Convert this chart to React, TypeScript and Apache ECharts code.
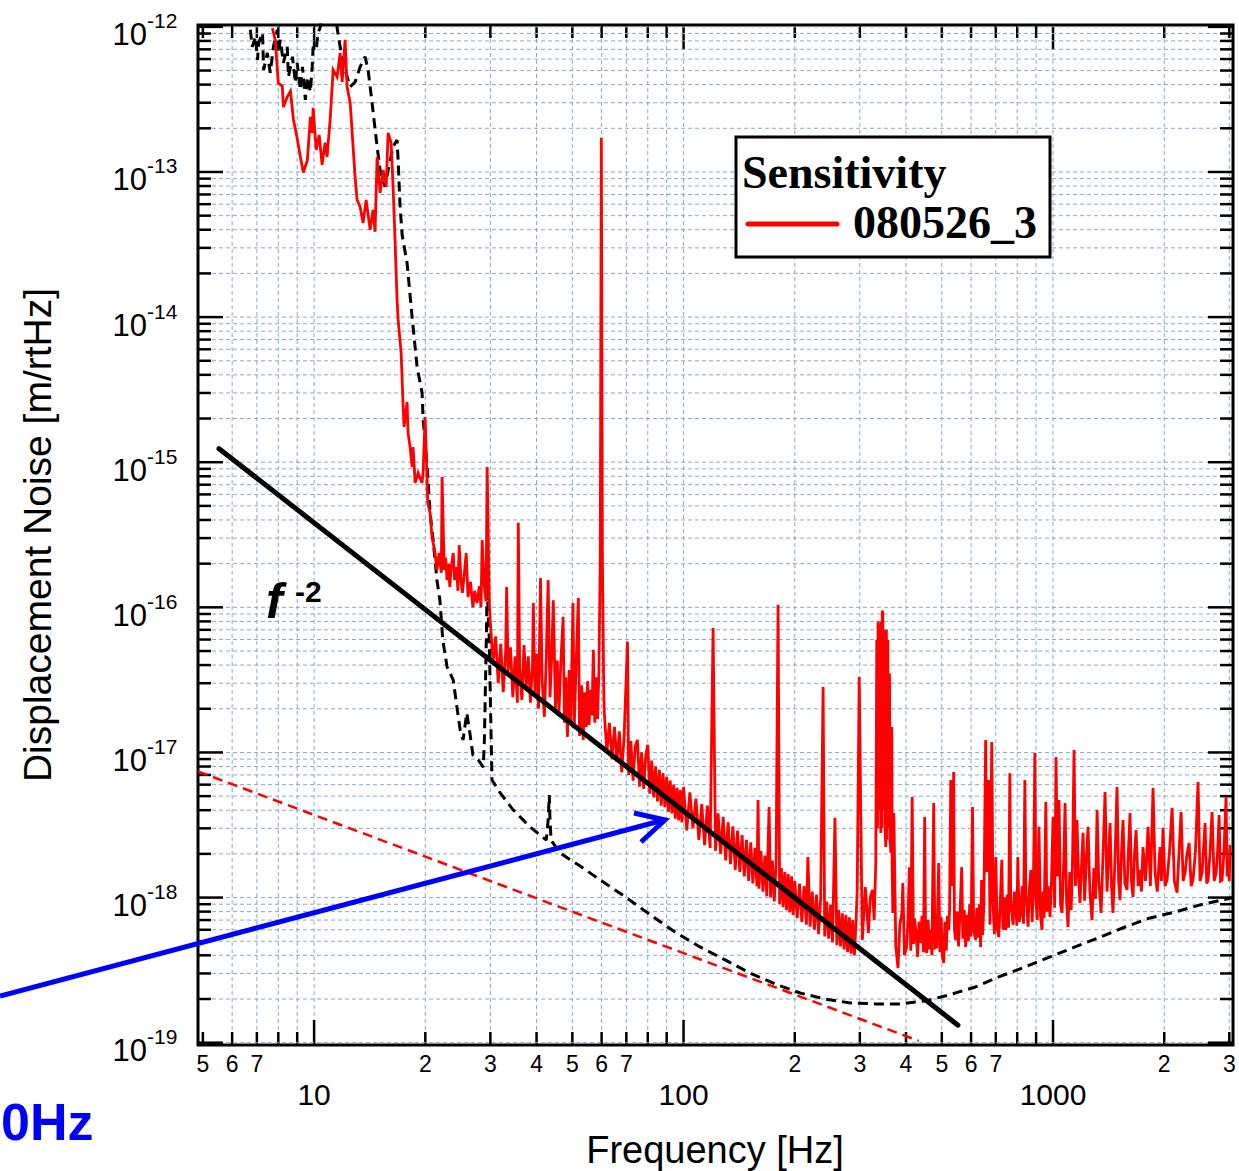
import React, { useEffect, useRef } from "react";
import * as echarts from "echarts";

const X_MIN = 4.85;
const X_MAX = 3070;
const Y_MIN = 9.64e-20;
const Y_MAX = 1.03e-12;

const xMajorTicks = [10, 100, 1000];
const xMajorLabels = ["10", "100", "1000"];
const xMinorTicks = [5, 6, 7, 8, 9, 20, 30, 40, 50, 60, 70, 80, 90, 200, 300, 400, 500, 600, 700, 800, 900, 2000, 3000];
const xMinorLabels = ["5", "6", "7", "", "", "2", "3", "4", "5", "6", "7", "", "", "2", "3", "4", "5", "6", "7", "", "", "2", "3"];
const yMajorTicks = [1e-19, 1e-18, 1e-17, 1e-16, 1e-15, 1e-14, 1e-13, 1e-12];
const yMajorExponents = ["-19", "-18", "-17", "-16", "-15", "-14", "-13", "-12"];
const yMinorMantissas = [2, 3, 4, 5, 6, 7, 8, 9];

// Measured sensitivity 080526_3 [Hz, m/rtHz]
const sensitivityLow = [
  [7.71, 9.8e-13], [7.85, 8.1e-13], [8.0, 4.1e-13], [8.2, 3.9e-13], [8.26, 2.8e-13], [8.46, 3.3e-13], [8.63, 3.6e-13],
  [8.79, 2.3e-13], [9.0, 1.7e-13], [9.18, 1.27e-13], [9.35, 9.9e-14], [9.59, 1.21e-13], [9.77, 2.4e-13], [9.88, 1.86e-13],
  [9.94, 2.77e-13], [10.13, 1.42e-13], [10.32, 1.8e-13], [10.51, 1.12e-13], [10.71, 1.59e-13], [10.84, 1.27e-13],
  [11.05, 2.29e-13], [11.26, 5.05e-13], [11.54, 4.52e-13], [11.76, 6.62e-13], [11.91, 4.17e-13], [12.13, 8.14e-13],
  [12.28, 3.86e-13], [12.52, 3.0e-13], [12.75, 1.49e-13], [12.91, 9.25e-14], [13.07, 6.43e-14], [13.32, 5.75e-14],
  [13.57, 4.46e-14], [13.83, 6.43e-14], [14.18, 4.0e-14], [14.44, 5.49e-14], [14.62, 3.87e-14], [14.81, 1.27e-13],
  [15.09, 7.18e-14], [15.38, 1.03e-13], [15.67, 7.9e-14], [15.86, 1.86e-13], [16.16, 1.59e-13], [16.36, 7.9e-14],
  [16.56, 3.4e-14], [16.77, 1.31e-14], [16.88, 9.6e-15], [17.2, 5.67e-15], [17.42, 2.4e-15], [17.52, 1.75e-15],
  [17.85, 2.6e-15], [17.96, 1.59e-15], [18.19, 1.27e-15], [18.42, 9.28e-16], [18.53, 1.27e-15], [18.77, 7.2e-16],
  [19.12, 8.43e-16], [19.6, 7.2e-16], [19.73, 8.6e-16], [19.97, 2.05e-15], [20.2, 8.43e-16], [20.3, 5.25e-16],
  [20.6, 4.47e-16], [20.85, 3.06e-16], [21.25, 2.37e-16], [21.5, 1.81e-16], [21.8, 2.37e-16], [22.1, 1.73e-16],
  [22.2, 7.9e-16], [22.5, 1.81e-16], [22.7, 2.2e-16], [22.9, 1.54e-16], [23.1, 2.0e-16], [23.3, 1.38e-16],
  [23.5, 1.9e-16], [23.8, 2.37e-16], [24.0, 1.54e-16], [24.3, 1.9e-16], [24.5, 1.3e-16], [24.7, 2.69e-16],
  [25.0, 1.5e-16], [25.2, 1.26e-16], [25.5, 1.7e-16], [25.8, 2.37e-16], [26.1, 1.18e-16], [26.5, 1.5e-16],
  [26.9, 1.0e-16], [27.2, 1.3e-16], [27.6, 1.07e-16], [28.0, 1.4e-16], [28.3, 1.0e-16], [28.5, 2.91e-16],
  [28.9, 1.38e-16], [29.2, 1.1e-16], [29.4, 9.28e-16], [29.8, 1.07e-16],
];
const sensitivity30to60 = [
  [30.0, 7.8e-17], [30.5, 4.2e-17], [31.0, 6.3e-17], [31.5, 3.0e-17], [32.0, 5.6e-17], [32.5, 2.6e-17], [33.0, 5.0e-17],
  [33.2, 1.38e-16], [33.5, 3.6e-17], [34.0, 5.3e-17], [34.5, 2.4e-17], [35.0, 4.6e-17], [35.5, 2.2e-17], [35.7, 3.82e-16],
  [36.0, 3.9e-17], [36.5, 2.3e-17], [37.0, 5.5e-17], [37.5, 2.8e-17], [38.0, 4.6e-17], [38.5, 2.2e-17], [39.0, 4.0e-17],
  [39.2, 1.07e-16], [39.6, 2.6e-17], [40.0, 4.8e-17], [40.5, 2.0e-17], [41.0, 1.59e-16], [41.4, 3.2e-17], [42.0, 1.76e-17],
  [42.5, 4.5e-17], [43.0, 1.54e-16], [43.5, 2.4e-17], [44.0, 4.85e-17], [44.4, 1.12e-16], [45.0, 2.0e-17], [45.5, 4.3e-17],
  [46.0, 1.9e-17], [46.5, 4.0e-17], [47.2, 8.6e-17], [47.6, 1.6e-17], [48.0, 3.3e-17], [48.5, 1.28e-17], [49.0, 3.7e-17],
  [49.5, 1.6e-17], [50.2, 1.07e-16], [50.6, 1.5e-17], [51.0, 3.0e-17], [51.9, 1.16e-16], [52.3, 1.3e-17], [53.0, 2.9e-17],
  [53.5, 1.22e-17], [54.0, 2.6e-17], [54.5, 1.5e-17], [55.0, 3.1e-17], [55.5, 1.55e-17], [56.0, 2.7e-17], [56.5, 1.8e-17],
  [57.0, 5.1e-17], [57.5, 1.6e-17], [58.0, 3.3e-17], [58.5, 1.7e-17], [59.0, 3.6e-17], [59.5, 2.12e-16], [59.9, 1.72e-13],
  [60.3, 2.12e-16], [60.8, 2.7e-17],
];
const sensitivity60to100 = [
  [61, 1.9e-17], [62, 1.0e-17], [63, 1.6e-17], [64, 9.0e-18], [65, 1.5e-17], [66, 8.6e-18], [67, 1.4e-17], [68, 7.3e-18],
  [69, 1.25e-17], [70.5, 5.8e-17], [71, 7.0e-18], [72, 1.2e-17], [73, 6.4e-18], [74, 1.1e-17], [75, 1.22e-17], [76, 5.8e-18],
  [77, 1.0e-17], [78, 5.6e-18], [79, 9.5e-18], [80, 1.13e-17], [81, 5.2e-18], [82, 8.8e-18], [83, 4.9e-18], [84, 8.0e-18],
  [85, 4.6e-18], [86, 7.6e-18], [87, 4.3e-18], [88, 7.2e-18], [89, 4.2e-18], [90, 6.8e-18], [91, 3.9e-18], [92, 6.4e-18],
  [93, 3.8e-18], [94, 6.0e-18], [95, 3.5e-18], [96, 5.7e-18], [97, 3.4e-18], [98, 5.5e-18], [99, 3.3e-18], [100, 5.8e-18],
];
const sensitivity100to300 = [
  [102, 2.9e-18], [104, 5.3e-18], [106, 3.0e-18], [108, 4.8e-18], [110, 2.5e-18], [112, 4.4e-18], [114, 2.3e-18],
  [116, 4.3e-18], [118, 2.2e-18], [120.2, 7.2e-17], [122, 2.1e-18], [124, 3.8e-18], [126, 2.0e-18], [128, 3.6e-18],
  [130, 1.8e-18], [132, 3.3e-18], [134, 1.7e-18], [136, 3.1e-18], [138, 1.55e-18], [140, 2.9e-18], [142, 1.5e-18],
  [144, 2.7e-18], [146, 1.4e-18], [148, 2.5e-18], [150, 1.3e-18], [152, 2.4e-18], [154, 1.25e-18], [156, 2.2e-18],
  [158, 1.2e-18], [159.1, 4.7e-18], [160, 1.15e-18], [162, 2.1e-18], [164, 1.1e-18], [166, 1.95e-18], [168, 1.02e-18],
  [170.4, 4.2e-18], [172, 1.0e-18], [174, 1.8e-18], [176, 9.4e-19], [178, 1.7e-18], [180.2, 1.04e-16], [182, 9.0e-19],
  [184, 1.6e-18], [186, 8.6e-19], [188, 1.5e-18], [190, 8.2e-19], [192, 1.45e-18], [194, 7.9e-19], [196, 1.4e-18],
  [198, 7.6e-19], [200, 1.3e-18], [203, 7.2e-19], [206, 1.25e-18], [209, 6.8e-19], [212, 1.2e-18], [215, 6.5e-19],
  [217, 1.9e-18], [220, 6.3e-19], [223, 1.1e-18], [226, 6.0e-19], [229, 1.05e-18], [232, 5.6e-19], [235, 9.8e-19],
  [238.6, 2.83e-17], [241, 5.4e-19], [244, 9.4e-19], [247, 5.2e-19], [250, 8.9e-19], [253, 4.9e-19], [256.9, 3.54e-18],
  [260, 4.7e-19], [263, 8.2e-19], [266, 4.6e-19], [269, 7.8e-19], [272, 4.4e-19], [275, 7.6e-19], [278, 4.2e-19],
  [281, 7.3e-19], [284, 4.1e-19], [287, 7.0e-19], [290, 4.0e-19], [293, 6.8e-19], [295.1, 1.13e-18],
];
const sensitivity300to375 = [
  [298.8, 3.31e-17], [304.6, 5.1e-19], [310.5, 1.18e-18], [316.4, 5.7e-19], [320, 1.0e-18], [324.8, 1.13e-18],
  [328, 7.0e-19], [331.3, 1.73e-18], [333.4, 5.97e-17], [335, 3.0e-18], [336, 8.0e-17], [337.6, 7.33e-17], [339, 4.0e-18],
  [340, 6.5e-17], [341.9, 2.79e-18], [343, 8.0e-17], [344, 3.0e-18], [345, 9.5e-17], [346.2, 9.15e-17], [347, 4.0e-18],
  [348.4, 6.98e-17], [350, 5.0e-17], [351, 3.0e-18], [352.7, 2.23e-18], [354, 7.0e-17], [355, 2.5e-18], [356, 4.0e-17],
  [357.2, 5.97e-17], [358, 3.0e-18], [359.4, 2.19e-17], [361, 3.5e-17], [362, 2.5e-18], [364, 2.03e-18], [366, 1.5e-17],
  [367, 1.5e-18], [368.5, 7.83e-19], [370.8, 3.83e-18],
];
const sensitivity375to1000 = [
  [375.4, 4.57e-19], [380.5, 3.27e-19], [385, 6.5e-19], [389.9, 7.83e-19], [392.2, 1.26e-18], [396, 4.0e-19],
  [401.5, 4.57e-19], [405, 7.0e-19], [408.5, 1.62e-18], [412, 4.3e-19], [415.7, 4.94e-18], [419, 4.8e-19], [422, 7.2e-19],
  [425.8, 5.7e-19], [430, 3.9e-19], [434, 6.8e-19], [438.4, 4.87e-19], [442, 7.5e-19], [446, 4.2e-19], [449.4, 3.59e-18],
  [452, 4.6e-19], [455, 4.15e-19], [459, 7.0e-19], [463, 4.4e-19], [466.6, 5.98e-19], [470, 4.0e-19], [475.3, 4.49e-18],
  [479, 4.5e-19], [484.4, 4.57e-19], [487, 8.0e-19], [490.4, 1.73e-18], [494, 4.2e-19], [498, 7.3e-19], [502, 3.9e-19],
  [506, 3.54e-19], [510, 6.8e-19], [514, 4.3e-19], [518, 7.5e-19], [522, 5.98e-19], [525, 8.5e-19], [528.6, 6.46e-18],
  [533, 1.2e-18], [538.4, 7.34e-18], [541, 6.0e-19], [545.2, 5.1e-19], [550, 8.0e-19], [555, 4.6e-19], [560, 7.8e-19],
  [566, 1.62e-18], [570, 5.2e-19], [575, 8.2e-19], [580, 4.57e-19], [585, 7.6e-19], [590, 5.0e-19], [595, 9.0e-19],
  [600, 5.4e-19], [605.4, 4.21e-18], [610, 6.0e-19], [617, 5.1e-19], [622, 8.5e-19], [628, 5.3e-19], [632, 9.0e-19],
  [636.7, 4.57e-19], [640.7, 1.32e-18], [645, 5.5e-19], [650, 9.2e-19], [657.1, 1.22e-17], [662, 1.5e-18],
  [669.8, 6.46e-18], [675, 6.5e-19], [682.7, 1.18e-17], [688, 9.0e-19], [694, 5.6e-19], [700, 1.9e-18], [706, 6.2e-19],
  [713, 5.34e-19], [720, 9.5e-19], [726.8, 1.82e-18], [732, 6.0e-19], [738, 1.0e-18], [745.3, 5.98e-19], [752, 1.05e-18],
  [758, 6.2e-19], [764.1, 7.2e-18], [768, 1.0e-18], [773.6, 7.83e-19], [780, 6.5e-19], [786, 1.1e-18], [793, 8.9e-19],
  [798, 6.4e-19], [803, 1.9e-18], [810, 6.8e-19], [818, 7.83e-19], [825, 1.2e-18], [832, 6.6e-19], [839, 6.46e-18],
  [844, 1.1e-18], [849.6, 8.6e-19], [856, 6.3e-19], [863, 1.15e-18], [871, 1.55e-18], [878, 6.8e-19], [885, 1.2e-18],
  [893.1, 9.9e-18], [899, 9.5e-19], [906, 7.0e-19], [915.9, 3.07e-18], [925, 7.5e-19], [933.4, 5.98e-19], [940, 1.1e-18],
  [946, 7.2e-19], [956.2, 4.55e-18], [962, 8.0e-19], [970, 1.2e-18], [981.5, 7.35e-19], [990, 1.25e-18], [1000, 3.59e-18],
];
const sensitivity1000to3000 = [
  [1010, 8.5e-19], [1019, 9.3e-18], [1028, 1.4e-18], [1038, 4.71e-18], [1048, 9.0e-19], [1058, 7.83e-19], [1068, 1.6e-18],
  [1078, 4.49e-18], [1088, 9.5e-19], [1098, 6.27e-19], [1110, 1.5e-18], [1120, 8.2e-19], [1130, 2.0e-18], [1140, 1.04e-17],
  [1150, 1.2e-18], [1161, 3.42e-18], [1172, 1.4e-18], [1183, 9.2e-19], [1195, 1.7e-18], [1206, 2.79e-18], [1218, 9.5e-19],
  [1230, 1.8e-18], [1244, 3.07e-18], [1258, 1.1e-18], [1275, 7.0e-19], [1290, 1.6e-18], [1303, 9.8e-19], [1316, 4.01e-18],
  [1330, 1.3e-18], [1349, 7.83e-19], [1365, 1.9e-18], [1383, 5.34e-18], [1400, 1.1e-18], [1413, 1.8e-18], [1427, 3.26e-18],
  [1440, 1.2e-18], [1453, 7.83e-19], [1470, 1.7e-18], [1490, 5.78e-18], [1505, 1.3e-18], [1518, 9.6e-19], [1532, 2.0e-18],
  [1547, 3.42e-18], [1565, 1.25e-18], [1586, 1.13e-18], [1600, 2.1e-18], [1616, 3.83e-18], [1630, 1.3e-18], [1646, 1.01e-18],
  [1660, 1.9e-18], [1678, 2.92e-18], [1700, 1.2e-18], [1720, 1.55e-18], [1735, 1.1e-18], [1752, 2.23e-18], [1780, 1.3e-18],
  [1808, 3.07e-18], [1835, 1.2e-18], [1865, 5.69e-18], [1889, 1.48e-18], [1915, 1.1e-18], [1948, 2.23e-18], [1965, 1.3e-18],
  [1985, 3.02e-18], [2010, 1.2e-18], [2035, 1.32e-18], [2065, 2.0e-18], [2100, 4.15e-18], [2130, 1.3e-18], [2166, 1.08e-18],
  [2190, 1.9e-18], [2221, 3.89e-18], [2250, 1.3e-18], [2277, 1.48e-18], [2305, 2.0e-18], [2335, 2.38e-18], [2365, 1.2e-18],
  [2393, 1.32e-18], [2430, 2.1e-18], [2469, 6.26e-18], [2500, 1.3e-18], [2532, 1.48e-18], [2555, 2.2e-18], [2580, 3.26e-18],
  [2605, 1.25e-18], [2628, 1.32e-18], [2660, 2.0e-18], [2694, 3.89e-18], [2730, 1.3e-18], [2763, 1.48e-18], [2790, 2.1e-18],
  [2815, 3.71e-18], [2840, 1.3e-18], [2868, 1.32e-18], [2900, 2.0e-18], [2940, 4.94e-18], [2960, 1.4e-18], [2977, 1.73e-18],
  [3000, 1.3e-18], [3014, 2.3e-18],
];

// Design / expected noise (black dashed)
const designNoise = [
  [6.72, 9.55e-13], [6.8, 7.28e-13], [6.94, 8.53e-13], [7.03, 5.93e-13], [7.08, 7.76e-13], [7.25, 9.1e-13],
  [7.3, 5.05e-13], [7.47, 6.62e-13], [7.61, 4.82e-13], [7.76, 7.28e-13], [7.95, 9.55e-13], [8.0, 6.62e-13],
  [8.1, 8.14e-13], [8.26, 5.65e-13], [8.46, 7.28e-13], [8.52, 4.52e-13], [8.74, 6.22e-13], [8.9, 4.11e-13],
  [9.0, 5.65e-13], [9.18, 3.68e-13], [9.3, 5.3e-13], [9.47, 3.14e-13], [9.59, 4.52e-13], [9.77, 3.56e-13],
  [9.88, 5.3e-13], [9.94, 7.28e-13], [10.13, 6.94e-13], [10.25, 9.1e-13], [10.38, 9.85e-13], [10.64, 1.5e-12],
  [11.33, 1.5e-12], [11.54, 9.85e-13], [11.76, 7.28e-13], [12.13, 5.05e-13], [12.52, 3.86e-13], [12.91, 4.17e-13],
  [13.32, 5.3e-13], [13.74, 6.22e-13], [14.0, 5.05e-13], [14.35, 3.0e-13], [14.81, 1.49e-13], [15.09, 1.03e-13],
  [15.57, 7.9e-14], [15.86, 1.03e-13], [16.36, 1.49e-13], [16.77, 1.66e-13], [16.88, 1.21e-13], [17.09, 5.75e-14],
  [17.31, 3.68e-14], [17.85, 2.36e-14], [18.42, 1.0e-14], [19.0, 4.54e-15], [19.6, 3.0e-15], [19.73, 1.96e-15],
  [20.2, 9.89e-16], [20.6, 4.47e-16], [21.0, 2.91e-16], [21.5, 1.54e-16], [21.9, 1.12e-16], [22.3, 5.97e-17],
  [22.9, 3.89e-17], [23.8, 3.16e-17], [24.35, 2.06e-17], [24.85, 1.43e-17], [25.3, 1.22e-17], [25.9, 1.87e-17],
  [26.4, 1.36e-17], [26.9, 9.6e-18], [27.8, 8.9e-18], [28.7, 7.93e-18], [28.9, 1.22e-17], [29.25, 5.97e-17],
  [29.4, 1.43e-16], [29.8, 5.97e-17], [30.0, 2.3e-17], [30.3, 6.46e-18], [31.9, 5.26e-18], [34.6, 4.01e-18],
  [38.4, 3.07e-18], [42.5, 2.49e-18], [43.0, 3.42e-18], [43.3, 5.09e-18], [43.5, 3.42e-18], [43.8, 2.49e-18],
  [46.3, 2.03e-18], [52.5, 1.65e-18], [59.5, 1.32e-18], [69.6, 1.01e-18], [81.3, 7.6e-19], [94.8, 5.79e-19],
  [110.8, 4.57e-19], [129.5, 3.72e-19], [151.4, 3.02e-19], [176.8, 2.54e-19], [206.7, 2.2e-19], [241.5, 2.0e-19],
  [282.4, 1.88e-19], [331.3, 1.85e-19], [385.7, 1.85e-19], [450.6, 1.94e-19], [522, 2.13e-19], [616.5, 2.42e-19],
  [713, 2.84e-19], [838, 3.32e-19], [981.5, 3.9e-19], [1147, 4.57e-19], [1341, 5.34e-19], [1566, 6.27e-19],
  [1831, 7.24e-19], [2140, 7.95e-19], [2500, 8.9e-19], [3070, 1.0e-18],
];

// Red dashed reference line
const referenceLine = [[4.85, 7.4e-18], [46.3, 8.6e-19], [433, 1.03e-19]];
// f^-2 guide line
const fMinus2Line = [[5.53, 1.24e-15], [553, 1.32e-19]];

const sensitivity = [
  ...sensitivityLow, ...sensitivity30to60, ...sensitivity60to100, ...sensitivity100to300,
  ...sensitivity300to375, ...sensitivity375to1000, ...sensitivity1000to3000,
];

const GRID_COLOR = "#86aacb";
const SANS = "'Liberation Sans', Arial, sans-serif";
const SERIF = "'Liberation Serif', 'Times New Roman', serif";

type Tick = { v: number; major: boolean; label: string; grid: boolean };

const xTicks: Tick[] = [
  ...xMajorTicks.map((v, i) => ({ v, major: true, label: xMajorLabels[i], grid: true })),
  ...xMinorTicks.map((v, i) => ({ v, major: false, label: xMinorLabels[i], grid: v !== 5 })),
];
const yTicks: Tick[] = [
  ...yMajorTicks.map((v, i) => ({ v, major: true, label: yMajorExponents[i], grid: true })),
];
yMajorTicks.slice(0, 7).forEach((d) => {
  yMinorMantissas.forEach((m) => yTicks.push({ v: m * d, major: false, label: "", grid: true }));
});

function lineEl(x1: number, y1: number, x2: number, y2: number, style: any) {
  return { type: "line", shape: { x1, y1, x2, y2 }, style };
}

function textEl(text: string, x: number, y: number, size: number, align: string, vAlign: string) {
  return {
    type: "text",
    style: {
      text, x, y, fill: "#000", fontSize: size, fontFamily: SANS,
      align, verticalAlign: vAlign, textAlign: align, textVerticalAlign: vAlign,
    },
  };
}

const tickStyle = { stroke: "#000", lineWidth: 2.5 };
const gridStyle = { stroke: GRID_COLOR, lineWidth: 1, lineDash: [4, 3] };

const option: any = {
  animation: false,
  backgroundColor: "#ffffff",
  grid: { left: 198, top: 25, width: 1035, height: 1020, show: true, borderColor: "#000", borderWidth: 3, backgroundColor: "transparent" },
  xAxis: {
    type: "log", logBase: 10, min: X_MIN, max: X_MAX,
    axisLine: { show: false }, axisTick: { show: false }, axisLabel: { show: false }, splitLine: { show: false },
  },
  yAxis: {
    type: "log", logBase: 10, min: Y_MIN, max: Y_MAX,
    axisLine: { show: false }, axisTick: { show: false }, axisLabel: { show: false }, splitLine: { show: false },
  },
  series: [
    {
      type: "custom", name: "xTicks", z: 1, silent: true,
      data: xTicks.map((t) => [t.v, Y_MIN]),
      renderItem: (params: any, api: any) => {
        const t = xTicks[params.dataIndex];
        const b = api.coord([t.v, Y_MIN]);
        const tp = api.coord([t.v, Y_MAX]);
        const x = b[0], yb = b[1], yt = tp[1];
        const len = t.major ? 25 : 13;
        const ch: any[] = [];
        if (t.grid) ch.push(lineEl(x, yt, x, yb, gridStyle));
        ch.push(lineEl(x, yb, x, yb - len, tickStyle));
        ch.push(lineEl(x, yt, x, yt + len, tickStyle));
        if (t.major) ch.push(textEl(t.label, x, yb + 49, 30, "center", "middle"));
        else if (t.label) ch.push(textEl(t.label, x, yb + 19, 23, "center", "middle"));
        return { type: "group", children: ch };
      },
    },
    {
      type: "custom", name: "yTicks", z: 1, silent: true,
      data: yTicks.map((t) => [X_MIN, t.v]),
      renderItem: (params: any, api: any) => {
        const t = yTicks[params.dataIndex];
        const l = api.coord([X_MIN, t.v]);
        const r = api.coord([X_MAX, t.v]);
        const y = l[1], xl = l[0], xr = r[0];
        const len = t.major ? 25 : 13;
        const ch: any[] = [];
        if (t.grid) ch.push(lineEl(xl, y, xr, y, gridStyle));
        ch.push(lineEl(xl, y, xl + len, y, tickStyle));
        ch.push(lineEl(xr, y, xr - len, y, tickStyle));
        if (t.major) {
          ch.push(textEl("10", xl - 51, y + 8, 31, "right", "middle"));
          ch.push(textEl(t.label, xl - 51, y - 6, 21, "left", "middle"));
        }
        return { type: "group", children: ch };
      },
    },
    {
      type: "line", name: "reference", data: referenceLine, showSymbol: false, symbol: "none", z: 2,
      lineStyle: { color: "#ff0000", width: 2.5, type: [10, 6] },
    },
    {
      type: "line", name: "design", data: designNoise, showSymbol: false, symbol: "none", z: 2,
      lineStyle: { color: "#000000", width: 3, type: [10, 6] },
    },
    {
      type: "line", name: "080526_3", data: sensitivity,
      showSymbol: false, symbol: "none", z: 3,
      lineStyle: { color: "#ff0000", width: 2.8, join: "miter" },
    },
    {
      type: "line", name: "f^-2", data: fMinus2Line, showSymbol: false, symbol: "none", z: 4,
      lineStyle: { color: "#000000", width: 5, cap: "round" },
    },
  ],
  graphic: [
    { type: "rect", z: 100, shape: { x: 736, y: 137, width: 314, height: 120 }, style: { fill: "#fff", stroke: "#000", lineWidth: 3 } },
    { type: "text", z: 101, style: { text: "Sensitivity", x: 742, y: 172, fill: "#000", fontSize: 46, fontWeight: "bold", fontFamily: SERIF, align: "left", verticalAlign: "middle", textAlign: "left", textVerticalAlign: "middle" } },
    { type: "line", z: 101, shape: { x1: 748, y1: 224, x2: 837, y2: 224 }, style: { stroke: "#ff0000", lineWidth: 5, lineCap: "round" } },
    { type: "text", z: 101, style: { text: "080526_3", x: 853, y: 222, fill: "#000", fontSize: 46, fontWeight: "bold", fontFamily: SERIF, align: "left", verticalAlign: "middle", textAlign: "left", textVerticalAlign: "middle" } },
    { type: "text", z: 101, style: { text: "f", x: 266, y: 601, fill: "#000", fontSize: 50, fontWeight: "bold", fontStyle: "italic", fontFamily: SANS, align: "left", verticalAlign: "middle", textAlign: "left", textVerticalAlign: "middle" } },
    { type: "text", z: 101, style: { text: "-2", x: 295, y: 591, fill: "#000", fontSize: 30, fontWeight: "bold", fontFamily: SANS, align: "left", verticalAlign: "middle", textAlign: "left", textVerticalAlign: "middle" } },
    { type: "text", z: 101, style: { text: "Frequency [Hz]", x: 715, y: 1150, fill: "#000", fontSize: 38, fontFamily: SANS, align: "center", verticalAlign: "middle", textAlign: "center", textVerticalAlign: "middle" } },
    { type: "text", z: 101, x: 37, y: 535, rotation: Math.PI / 2, style: { text: "Displacement Noise [m/rtHz]", x: 0, y: 0, fill: "#000", fontSize: 39, fontFamily: SANS, align: "center", verticalAlign: "middle", textAlign: "center", textVerticalAlign: "middle" } },
    { type: "line", z: 110, shape: { x1: 0, y1: 996, x2: 664, y2: 820 }, style: { stroke: "#0000ff", lineWidth: 5 } },
    { type: "polyline", z: 110, shape: { points: [[634, 813], [665, 820], [641, 842]] }, style: { stroke: "#0000ff", lineWidth: 5, fill: "none", lineJoin: "miter" } },
    { type: "text", z: 110, style: { text: "0Hz", x: 1, y: 1122, fill: "#0000ff", fontSize: 52, fontWeight: "bold", fontFamily: SANS, align: "left", verticalAlign: "middle", textAlign: "left", textVerticalAlign: "middle" } },
  ],
};

export default function App() {
  const ref = useRef<HTMLDivElement>(null);
  useEffect(() => {
    if (!ref.current) return;
    const chart = echarts.init(ref.current, null, { renderer: "svg" });
    chart.setOption(option);
    return () => chart.dispose();
  }, []);
  return <div ref={ref} style={{ position: "fixed", left: 0, top: 0, width: 1239, height: 1171, background: "#fff" }} />;
}
